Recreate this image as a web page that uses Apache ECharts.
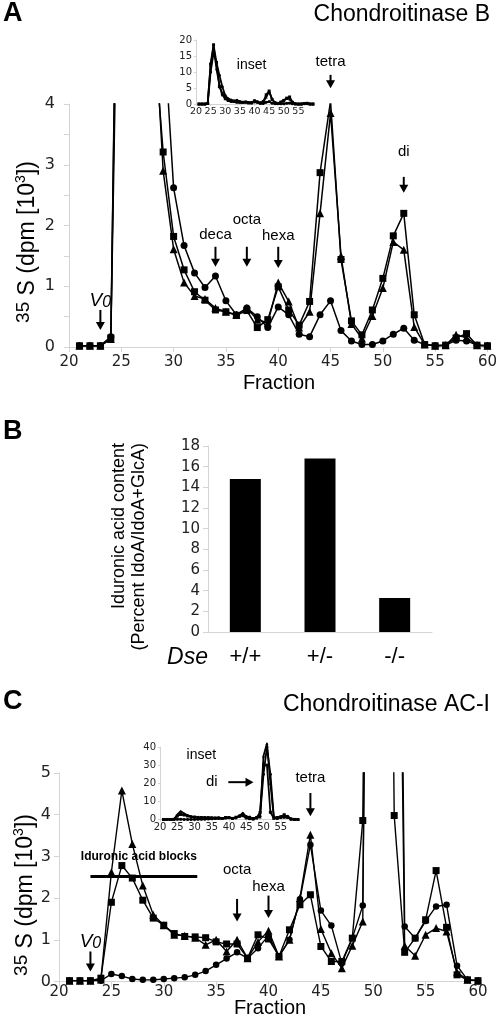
<!DOCTYPE html>
<html><head><meta charset="utf-8">
<script src="https://cdn.jsdelivr.net/npm/echarts@6/dist/echarts.min.js"></script>
<style>html,body{margin:0;padding:0;background:#fff}#c{width:500px;height:1026px}</style>
</head><body><div id="c"></div>
<script>
// ---------- DATA ----------
const fractions = [21,22,23,24,25,26,27,28,29,30,31,32,33,34,35,36,37,38,39,40,41,42,43,44,45,46,47,48,49,50,51,52,53,54,55,56,57,58,59,60];

// Panel A (Chondroitinase B), dpm x10^3
const aSquares = [0.02,0.02,0.02,0.15,12.5,18.5,13,5.4,3.21,1.82,1.27,0.91,0.77,0.61,0.58,0.52,0.6,0.32,0.45,0.99,0.61,0.36,0.75,2.87,4.05,1.44,0.43,0.2,0.61,1.13,1.83,2.2,0.53,0.04,0.02,0.03,0.15,0.22,0.03,0.02];
const aTriangles = [0.02,0.02,0.02,0.13,12,18,11,6,2.9,1.61,1.06,0.84,0.79,0.64,0.58,0.53,0.64,0.45,0.4,1.06,0.75,0.32,0.58,2.2,3.85,1.5,0.38,0.14,0.51,0.97,1.73,1.6,0.33,0.04,0.02,0.03,0.2,0.15,0.03,0.02];
const aCircles = [0.02,0.02,0.02,0.17,10,16,13,9,5.4,2.62,1.67,1.22,0.98,1.17,0.76,0.53,0.64,0.5,0.32,0.66,0.53,0.21,0.17,0.53,0.76,0.27,0.1,0.04,0.04,0.1,0.21,0.31,0.11,0.04,0.02,0.03,0.11,0.1,0.03,0.02];

// Panel B
const bCategories = ['+/+','+/-','-/-'];
const bValues = [14.8, 16.8, 3.3];

// Panel C (Chondroitinase AC-I), dpm x10^3
const cSquares = [0.02,0.02,0.02,0.08,1.9,2.78,2.48,1.95,1.52,1.35,1.15,1.08,1.07,1.05,0.95,0.9,0.9,0.56,1.12,1.02,0.6,1.24,1.84,2.08,0.84,0.48,0.48,1.04,3.86,30,30,3.98,0.7,1.04,1.48,2.66,1.3,0.16,0.04,0.02];
const cTriangles = [0.02,0.02,0.02,0.05,2.62,4.58,3.3,2.3,1.6,1.35,1.12,1.1,1.05,0.88,1.0,0.72,1.0,0.56,0.95,1.22,0.6,1.0,2.0,3.52,1.26,0.68,0.32,0.86,1.44,35,42,20,0.86,0.62,1.12,1.28,1.2,0.22,0.04,0.02];
const cCircles = [0.02,0.02,0.02,0.02,0.18,0.13,0.06,0.04,0.04,0.06,0.08,0.1,0.16,0.25,0.4,0.55,0.7,0.56,0.8,1.1,0.6,1.0,1.97,3.28,1.7,1.34,0.44,1.04,1.82,25,40,25,1.32,1.04,1.45,1.8,1.84,0.38,0.04,0.02];

// annotations (data units of each plot)
const annA = [
  {t:'V0', x:23, ty:0.77, y0:0.61, y1:0.28, italic:true},
  {t:'deca', x:34, ty:1.84, y0:1.65, y1:1.32},
  {t:'octa', x:37, ty:2.09, y0:1.65, y1:1.32},
  {t:'hexa', x:40, ty:1.83, y0:1.65, y1:1.30},
  {t:'tetra', x:45, ty:4.70, y0:4.48, y1:4.26},
  {t:'di', x:52, ty:3.21, y0:2.80, y1:2.54}
];
const annC = [
  {t:'V0', x:23, ty:0.95, y0:0.72, y1:0.24, italic:true},
  {t:'octa', x:37, ty:2.68, y0:1.98, y1:1.44},
  {t:'hexa', x:40, ty:2.28, y0:2.06, y1:1.52},
  {t:'tetra', x:44, ty:4.88, y0:4.52, y1:3.96}
];
const blockBar = {x0:23.0, x1:33.2, y:2.52, label:'Iduronic acid blocks'};

// ---------- CHART ----------
const tickFont = 'DejaVu Sans';
const textFont = 'Liberation Sans, Arial, sans-serif';
const gray = '#d4d4d4';
const pair = arr => fractions.map((f,i)=>[f, arr[i]]);

function valAxis(grid, min, max, interval, o) {
  o = o || {};
  return Object.assign({
    type:'value', gridIndex:grid, min:min, max:max, interval:interval,
    axisLine:{show:true, onZero:false, lineStyle:{color:gray, width:1}},
    axisTick:{show:true, length:o.tickLen||5, lineStyle:{color:gray}},
    splitLine:{show:false},
    axisLabel:{fontFamily:tickFont, fontSize:o.fs||15, color:'#222', margin:o.margin||8,
      formatter:o.fmt, showMaxLabel:o.showMax!==false}
  }, o.extra||{});
}

function lineSeries(x, y, data, sym, size, lw, clip) {
  return {type:'line', xAxisIndex:x, yAxisIndex:y, data:data, symbol:sym, symbolSize:size,
    showSymbol:true, clip:clip!==false, animation:false,
    lineStyle:{color:'#000', width:lw}, itemStyle:{color:'#000', borderWidth:0}, z:3};
}

const option = {
  animation:false,
  backgroundColor:'#fff',
  grid:[
    {left:69, top:104, width:421, height:243},      // A main
    {left:196, top:40, width:117, height:64},       // A inset
    {left:208, top:446, width:224, height:186},     // B
    {left:59, top:773, width:419, height:208.5},    // C main
    {left:160, top:747, width:138, height:72.5}     // C inset
  ],
  xAxis:[
    valAxis(0,20,60,5,{fs:15, margin:8}),
    valAxis(1,20,60,5,{fs:9.5, margin:3, tickLen:2, showMax:false}),
    {type:'category', gridIndex:2, data:bCategories,
      axisLine:{lineStyle:{color:gray}}, axisTick:{show:false},
      axisLabel:{fontFamily:textFont, fontSize:22, color:'#000', margin:14}},
    valAxis(3,20,60,5,{fs:15, margin:3}),
    valAxis(4,20,60,5,{fs:10, margin:3, tickLen:2, showMax:false})
  ],
  yAxis:[
    valAxis(0,0,4,0.5,{fs:16, margin:14, fmt:v=> (Math.abs(v-Math.round(v))<1e-6 ? String(Math.round(v)) : '')}),
    valAxis(1,0,20,5,{fs:10, margin:4, tickLen:2}),
    valAxis(2,0,18,2,{fs:15, margin:8}),
    valAxis(3,0,5,1,{fs:16, margin:8}),
    valAxis(4,0,40,10,{fs:10, margin:4, tickLen:2})
  ],
  series:[
    lineSeries(0,0,pair(aCircles),'circle',7,1.5),
    lineSeries(0,0,pair(aTriangles),'triangle',8,1.5),
    lineSeries(0,0,pair(aSquares),'rect',7,1.5),
    lineSeries(1,1,pair(aCircles),'circle',3,1.8),
    lineSeries(1,1,pair(aTriangles),'triangle',3,1.8),
    lineSeries(1,1,pair(aSquares),'rect',3,1.8),
    {type:'bar', xAxisIndex:2, yAxisIndex:2, data:bValues, barWidth:31,
      itemStyle:{color:'#000'}, animation:false},
    lineSeries(3,3,pair(cCircles),'circle',6.5,1.4),
    lineSeries(3,3,pair(cTriangles),'triangle',8,1.4),
    lineSeries(3,3,pair(cSquares),'rect',7,1.4),
    lineSeries(4,4,pair(cCircles),'circle',3,1.8,false),
    lineSeries(4,4,pair(cTriangles),'triangle',3,1.8,false),
    lineSeries(4,4,pair(cSquares),'rect',3,1.8,false)
  ]
};

const chart = echarts.init(document.getElementById('c'), null, {renderer:'canvas'});
chart.setOption(option);

// ---------- annotations ----------
const g = [];
function px(grid, pt){ return chart.convertToPixel({xAxisIndex:grid, yAxisIndex:grid}, pt); }
function arrowDown(grid, a){
  const p0 = px(grid,[a.x,a.y0]), p1 = px(grid,[a.x,a.y1]), pt = px(grid,[a.x,a.ty]);
  g.push({type:'line', shape:{x1:p0[0], y1:p0[1], x2:p1[0], y2:p1[1]-6}, style:{stroke:'#000', lineWidth:2}, z:10});
  g.push({type:'polygon', shape:{points:[[p1[0]-4.5,p1[1]-8],[p1[0]+4.5,p1[1]-8],[p1[0],p1[1]]]}, style:{fill:'#000'}, z:10});
  if (a.italic) {
    g.push({type:'text', x:pt[0], y:pt[1], z:10, style:{text:'{v|V}{s|0}', align:'center', verticalAlign:'middle',
      rich:{v:{fontFamily:textFont, fontStyle:'italic', fontSize:19, fill:'#000'}, s:{fontFamily:textFont, fontStyle:'italic', fontSize:16, fill:'#000', padding:[4,0,0,0]}}}});
  } else {
    g.push({type:'text', x:pt[0], y:pt[1], z:10, style:{text:a.t, font:'15px '+textFont, fill:'#000', align:'center', verticalAlign:'middle'}});
  }
}
annA.forEach(a=>arrowDown(0,a));
annC.forEach(a=>arrowDown(3,a));

// inset labels
(function(){
  const p = px(1,[39,12.2]);
  g.push({type:'text', x:p[0], y:p[1], style:{text:'inset', font:'14px '+textFont, fill:'#000', align:'center', verticalAlign:'middle'}});
  const q = px(4,[32,35.3]);
  g.push({type:'text', x:q[0], y:q[1], style:{text:'inset', font:'14px '+textFont, fill:'#000', align:'center', verticalAlign:'middle'}});
  const d = px(4,[35,20.6]);
  g.push({type:'text', x:d[0], y:d[1], style:{text:'di', font:'15px '+textFont, fill:'#000', align:'center', verticalAlign:'middle'}});
  const h0 = px(4,[39.8,20.6]), h1 = px(4,[47.1,20.6]);
  g.push({type:'line', shape:{x1:h0[0], y1:h0[1], x2:h1[0]-6, y2:h1[1]}, style:{stroke:'#000', lineWidth:2}});
  g.push({type:'polygon', shape:{points:[[h1[0]-8,h1[1]-4.5],[h1[0]-8,h1[1]+4.5],[h1[0],h1[1]]]}, style:{fill:'#000'}});
  // iduronic acid blocks bar
  const b0 = px(3,[blockBar.x0, blockBar.y]), b1 = px(3,[blockBar.x1, blockBar.y]);
  g.push({type:'line', shape:{x1:b0[0], y1:b0[1], x2:b1[0], y2:b1[1]}, style:{stroke:'#000', lineWidth:3}, z:10});
  g.push({type:'text', x:(b0[0]+b1[0])/2 - 5, y:b0[1]-20, z:10, style:{text:blockBar.label, font:'bold 12px '+textFont, fill:'#000', align:'center', verticalAlign:'middle'}});
})();

// titles & axis names
const yName = {text:'{n|35}{m| S (dpm [10}{s|3}{m|])}', rich:{
  n:{fontFamily:textFont, fontSize:19, fill:'#000', verticalAlign:'top', lineHeight:28},
  m:{fontFamily:textFont, fontSize:23, fill:'#000', lineHeight:28},
  s:{fontFamily:textFont, fontSize:14, fill:'#000', verticalAlign:'top', lineHeight:28}}};
g.push(
  {type:'text', x:3, y:14, style:{text:'A', font:'bold 27px '+textFont, fill:'#000', verticalAlign:'middle'}},
  {type:'text', x:490, y:15, style:{text:'Chondroitinase B', font:'23px '+textFont, fill:'#000', align:'right', verticalAlign:'middle'}},
  {type:'text', x:28, y:242, rotation:Math.PI/2, style:Object.assign({align:'center', verticalAlign:'middle'}, yName)},
  {type:'text', x:279, y:383, style:{text:'Fraction', font:'20px '+textFont, fill:'#000', align:'center', verticalAlign:'middle'}},
  {type:'text', x:3, y:432, style:{text:'B', font:'bold 27px '+textFont, fill:'#000', verticalAlign:'middle'}},
  {type:'text', x:119, y:443, rotation:Math.PI/2, style:{text:'Iduronic acid content', font:'18px '+textFont, fill:'#000', align:'right', verticalAlign:'middle'}},
  {type:'text', x:139, y:443, rotation:Math.PI/2, style:{text:'(Percent IdoA/IdoA+GlcA)', font:'18px '+textFont, fill:'#000', align:'right', verticalAlign:'middle'}},
  {type:'text', x:208, y:658, style:{text:'Dse', font:'italic 23px '+textFont, fill:'#000', align:'right', verticalAlign:'middle'}},
  {type:'text', x:3, y:702, style:{text:'C', font:'bold 27px '+textFont, fill:'#000', verticalAlign:'middle'}},
  {type:'text', x:490, y:705, style:{text:'Chondroitinase AC-I', font:'23px '+textFont, fill:'#000', align:'right', verticalAlign:'middle'}},
  {type:'text', x:26, y:895, rotation:Math.PI/2, style:Object.assign({align:'center', verticalAlign:'middle'}, yName)},
  {type:'text', x:270, y:1008, style:{text:'Fraction', font:'20px '+textFont, fill:'#000', align:'center', verticalAlign:'middle'}}
);
chart.setOption({graphic:g});
</script>
</body></html>
